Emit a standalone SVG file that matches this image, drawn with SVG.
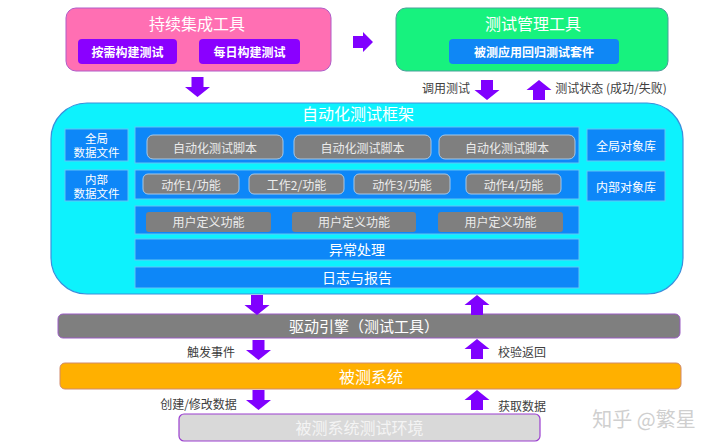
<svg xmlns="http://www.w3.org/2000/svg" xmlns:xlink="http://www.w3.org/1999/xlink" width="720" height="448" viewBox="0 0 720 448">
<defs>
<style>
text{font-family:"Noto Sans CJK SC","Microsoft YaHei",sans-serif;text-anchor:middle;dominant-baseline:central}
.t-white{fill:#ffffff}
.title{font-size:16px;fill:#ffffff}
.btn{font-size:12px;font-weight:bold;fill:#ffffff}
.blue{fill:#0d87f8;stroke:#63c6f5;stroke-width:1}
.gbtn{fill:#7f7f7f;stroke:#a8c8e6;stroke-width:1}
.gtxt{font-size:12px;fill:#ececec}
.wtxt{font-size:12px;fill:#ffffff}
.wtxt2{font-size:11.5px;fill:#ffffff}
.lbl{font-size:12px;fill:#404040}
.arrow{fill:#8000ff}
</style>
<path id="down" d="M-6,0 H6 V10 H12.5 L0,20 L-12.5,10 H-6 Z"/>
<path id="up" d="M0,0 L12.5,10 H6 V20 H-6 V10 H-12.5 Z"/>
<path id="right" d="M0,-6 H10 V-10 L20,0 L10,10 V6 H0 Z"/>
</defs>
<rect width="720" height="448" fill="#ffffff"/>

<g id="ci-tool">
<rect x="66" y="8" width="265" height="63" rx="10" fill="#ff6fb3" stroke="#b05cc8" stroke-width="1"/>
<text x="197" y="23" class="title">持续集成工具</text>
<rect x="78" y="39" width="99" height="25" rx="4" fill="#8a00ff"/>
<text x="127.5" y="51.5" class="btn">按需构建测试</text>
<rect x="199" y="39" width="101" height="25" rx="4" fill="#8a00ff"/>
<text x="249.5" y="51.5" class="btn">每日构建测试</text>
</g>

<g id="test-mgmt">
<rect x="396" y="8" width="272" height="63" rx="10" fill="#17f27e" stroke="#4a9f9a" stroke-width="1"/>
<text x="533" y="23" class="title">测试管理工具</text>
<rect x="449" y="39" width="170" height="25" rx="4" fill="#0f87f5"/>
<text x="534" y="51.5" class="btn">被测应用回归测试套件</text>
</g>

<g id="framework">
<rect x="51" y="103" width="632" height="191" rx="36" fill="#0df2fd" stroke="#3a8fdc" stroke-width="1.2"/>
<text x="358" y="113" class="title">自动化测试框架</text>
</g>

<g id="global-data">
<rect x="65" y="129" width="63" height="32" class="blue"/>
<text class="wtxt2"><tspan x="96.5" y="137.5">全局</tspan><tspan x="96.5" y="152">数据文件</tspan></text>
</g>
<g id="internal-data">
<rect x="65" y="170" width="63" height="31" class="blue"/>
<text class="wtxt2"><tspan x="96.5" y="178.5">内部</tspan><tspan x="96.5" y="193">数据文件</tspan></text>
</g>

<g id="scripts-row">
<rect x="135" y="127" width="444" height="36" class="blue"/>
<rect x="147" y="135" width="136" height="24" rx="6" class="gbtn"/>
<text x="215" y="147" class="gtxt">自动化测试脚本</text>
<rect x="294" y="135" width="137" height="24" rx="6" class="gbtn"/>
<text x="362.5" y="147" class="gtxt">自动化测试脚本</text>
<rect x="439" y="135" width="136" height="24" rx="6" class="gbtn"/>
<text x="507" y="147" class="gtxt">自动化测试脚本</text>
</g>

<g id="actions-row">
<rect x="135" y="170" width="444" height="29" class="blue"/>
<rect x="143" y="174" width="96" height="20" rx="5" class="gbtn"/>
<text x="191" y="184" class="gtxt">动作1/功能</text>
<rect x="249" y="174" width="95" height="20" rx="5" class="gbtn"/>
<text x="296.5" y="184" class="gtxt">工作2/功能</text>
<rect x="354" y="174" width="96" height="20" rx="5" class="gbtn"/>
<text x="402" y="184" class="gtxt">动作3/功能</text>
<rect x="466" y="174" width="95" height="20" rx="5" class="gbtn"/>
<text x="513.5" y="184" class="gtxt">动作4/功能</text>
</g>

<g id="user-func-row">
<rect x="135" y="206" width="444" height="28" class="blue"/>
<rect x="146" y="212" width="125" height="20" rx="3" fill="#7f7f7f"/>
<text x="208.5" y="221" class="gtxt">用户定义功能</text>
<rect x="292" y="212" width="124" height="20" rx="3" fill="#7f7f7f"/>
<text x="354" y="221" class="gtxt">用户定义功能</text>
<rect x="438" y="212" width="125" height="20" rx="3" fill="#7f7f7f"/>
<text x="500.5" y="221" class="gtxt">用户定义功能</text>
</g>

<g id="exception">
<rect x="135" y="239" width="444" height="21" class="blue"/>
<text x="357" y="249" class="t-white" font-size="14">异常处理</text>
</g>
<g id="log-report">
<rect x="135" y="267" width="444" height="21" class="blue"/>
<text x="357" y="277" class="t-white" font-size="14">日志与报告</text>
</g>

<g id="global-obj">
<rect x="587" y="129" width="78" height="32" class="blue"/>
<text x="626" y="145" class="wtxt">全局对象库</text>
</g>
<g id="internal-obj">
<rect x="587" y="171" width="78" height="30" class="blue"/>
<text x="626" y="186" class="wtxt">内部对象库</text>
</g>

<g id="driver">
<rect x="58" y="314" width="622" height="24" rx="5" fill="#7f7f7f" stroke="#9b5cc4" stroke-width="1"/>
<text x="364" y="325.5" class="t-white" font-size="15">驱动引擎（测试工具）</text>
</g>

<g id="sut">
<rect x="60" y="363" width="621" height="26" rx="5" fill="#ffb000" stroke="#d08a6a" stroke-width="1"/>
<text x="371" y="375.5" class="t-white" font-size="16">被测系统</text>
</g>

<g id="sut-env">
<rect x="179" y="414" width="361" height="27" rx="5" fill="#d9d9d9" stroke="#9b3fd0" stroke-width="1.2"/>
<text x="359.5" y="427" font-size="16" fill="#f4f4f4">被测系统测试环境</text>
</g>

<g id="connectors" class="arrow">
<use xlink:href="#down" x="197.5" y="77"/>
<use xlink:href="#right" x="353" y="42"/>
<use xlink:href="#down" x="487" y="80"/>
<use xlink:href="#up" x="539" y="80"/>
<use xlink:href="#down" x="257" y="295"/>
<use xlink:href="#up" x="477" y="295"/>
<use xlink:href="#down" x="258.5" y="340"/>
<use xlink:href="#up" x="477" y="339"/>
<use xlink:href="#down" x="258.5" y="390"/>
<use xlink:href="#up" x="477" y="390"/>
</g>

<g id="labels">
<text x="446" y="87" class="lbl">调用测试</text>
<text x="611" y="87" class="lbl">测试状态 (成功/失败)</text>
<text x="211" y="351" class="lbl">触发事件</text>
<text x="522" y="351" class="lbl">校验返回</text>
<text x="198.5" y="403" class="lbl">创建/修改数据</text>
<text x="522" y="405" class="lbl">获取数据</text>
</g>

<text x="644" y="418" font-size="20" fill="#cfcfcf">知乎 @繁星</text>
</svg>
